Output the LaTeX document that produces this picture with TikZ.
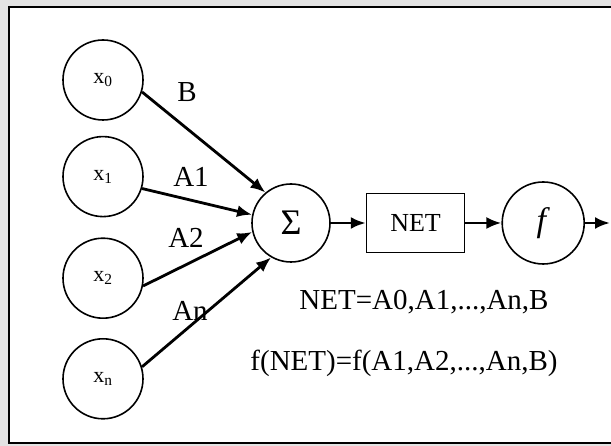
\documentclass[tikz,border=0pt]{standalone}
\usepackage{fontspec}
\setmainfont{Liberation Serif}
\usetikzlibrary{positioning,arrows.meta}

\tikzset{
    unit/.style={draw,circle,line width=1.6pt,minimum size=80pt,inner sep=0pt,font=\fontsize{22}{24}\selectfont},
    netbox/.style={draw,line width=1.6pt,minimum width=98pt,minimum height=59pt,inner sep=0pt,font=\fontsize{26}{30}\selectfont},
    wire/.style={line width=2.8pt,-{Latex[length=15pt,width=12pt]}},
    lbl/.style={inner sep=0pt,font=\fontsize{29}{34}\selectfont},
}

\begin{document}
\begin{tikzpicture}[x=1pt,y=1pt]
    \useasboundingbox (0,0) rectangle (611,446);
    \fill[gray!22] (0,0) rectangle (611,446);
    \filldraw[fill=white,line width=1.8pt] (9,3) rectangle (618,439);

    \node[unit] (x0) at (103,366) {x\textsubscript{0}};
    \node[unit,below=15pt of x0] (x1) {x\textsubscript{1}};
    \node[unit,below=20pt of x1] (x2) {x\textsubscript{2}};
    \node[unit,below=19pt of x2] (xn) {x\textsubscript{n}};

    \node[unit,minimum size=78pt,font=\fontsize{36}{40}\selectfont] (sum) at (291,223) {Σ};
    \node[netbox,right=35pt of sum] (net) {NET};
    \node[unit,minimum size=82pt,right=36pt of net,font=\fontsize{34}{38}\selectfont] (f) {\textit{f}};
    \coordinate[right=25pt of f] (out);

    \node[lbl] (wb) at (187,354) {B};
    \node[lbl] (w1) at (191,269) {A1};
    \node[lbl] (w2) at (186,208) {A2};
    \node[lbl] (wn) at (190,135) {An};

    \node[lbl] (neteq) at (424,144) {NET=A0,A1,...,An,B};
    \node[lbl] (feq) at (404,83) {f(NET)=f(A1,A2,...,An,B)};

    \draw[wire] (x0.-17) -- (sum.130);
    \draw[wire] (x1.-17) -- (sum.168);
    \draw[wire] (x2.-11) -- (sum.193);
    \draw[wire] (xn.17) -- (sum.240);
    \draw[wire] (sum) -- (net);
    \draw[wire] (net) -- (f);
    \draw[wire] (f) -- (out);
\end{tikzpicture}
\end{document}
